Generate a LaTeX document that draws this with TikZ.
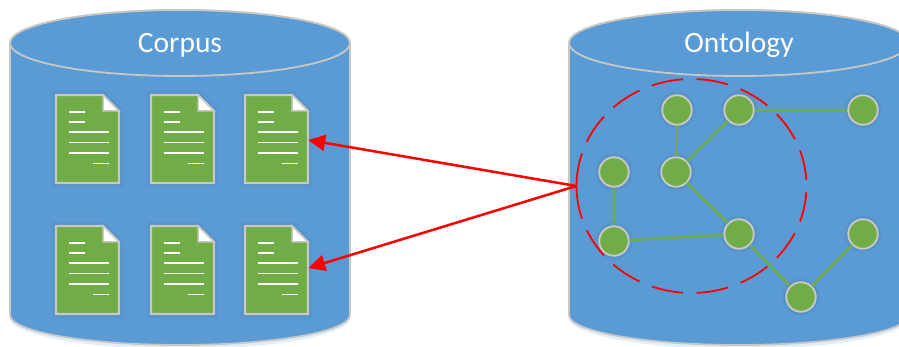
\documentclass[tikz,border=0pt]{standalone}
\usepackage{fontspec}
\setmainfont{Carlito}
\usetikzlibrary{shapes.geometric,arrows.meta}
\definecolor{cylblue}{HTML}{5B9BD5}
\definecolor{leaf}{HTML}{70AD47}
\definecolor{rim}{HTML}{C8C8C4}
\tikzset{
  softglow/.style={preaction={draw=#1,draw opacity=.07,line width=9pt,fill=none},
                   preaction={draw=#1,draw opacity=.08,line width=6pt,fill=none},
                   preaction={draw=#1,draw opacity=.10,line width=3.5pt,fill=none}},
  cylbody/.style={fill=cylblue,draw=rim,line width=1.8pt},
  cyltitle/.style={text=white,font=\fontsize{29.5}{32}\selectfont,inner sep=0pt},
  docbox/.style={fill=leaf,draw=rim,line width=2.2pt,softglow={cylblue!70!black}},
  docfold/.style={fill=white,draw=rim,line width=1.5pt},
  docline/.style={draw=white,line width=1.9pt},
  vertex/.style={circle,fill=leaf,draw=rim,line width=1.9pt,minimum size=29.5pt,inner sep=0pt,softglow={cylblue!70!black}},
  edgeline/.style={draw=leaf,line width=2.5pt},
  ring/.style={ellipse,inner sep=0pt,minimum width=230pt,minimum height=214pt},
  ringarc/.style={draw=red,line width=1.8pt},
  pointer/.style={draw=red,line width=2.5pt,-{Triangle[length=17pt,width=16pt]}},
  docanchor/.style={minimum width=63pt,minimum height=88pt,inner sep=0pt},
}
\newcommand{\cylinder}[3]{%
  \begin{scope}[shift={(#1,0)}]
    \fill[#2!50!white,opacity=.35] (-170,318) arc[start angle=180,end angle=0,x radius=170,y radius=31] -- (170,312) -- (-170,312) -- cycle;
    \path[cylbody] (-170,43) -- (-170,315) arc[start angle=180,end angle=0,x radius=170,y radius=30] -- (170,43) arc[start angle=0,end angle=-180,x radius=170,y radius=33] -- cycle;
    \path[cylbody] (0,43) ellipse[x radius=170,y radius=33];
    \node[cyltitle] (#3) at (0,45) {#3};
  \end{scope}}
\newcommand{\docnode}[3]{%
  \node[docanchor] (#1) at (#2,#3) {};
  \begin{scope}[shift={(#2,#3)}]
    \path[docbox] (-31.5,-44) -- (15.5,-44) -- (31.5,-28) -- (31.5,44) -- (-31.5,44) -- cycle;
    \path[docfold] (15.5,-44) -- (31.5,-28) -- (15.5,-28) -- cycle;
    \foreach \yy in {-27,-17} {\path[docline] (-19,\yy) -- (-3,\yy);}
    \foreach \yy in {-7,3.5,14} {\path[docline] (-19,\yy) -- (21,\yy);}
    \path[docline] (5,24.5) -- (21,24.5);
  \end{scope}}
\begin{document}
\begin{tikzpicture}[x=1pt,y=-1pt]
\useasboundingbox (0,0) rectangle (899,347);
\clip (0,0) rectangle (899,347);
\cylinder{180}{cylblue}{Corpus}
\cylinder{739}{cylblue}{Ontology}
\docnode{d1}{87.5}{139}
\docnode{d2}{182.5}{139}
\docnode{d3}{276.5}{139}
\docnode{d4}{87.5}{270}
\docnode{d5}{182.5}{270}
\docnode{d6}{276.5}{270}
\node[vertex] (a) at (677,110) {};
\node[vertex] (b) at (739,110) {};
\node[vertex] (c) at (863,110) {};
\node[vertex] (e) at (614,172) {};
\node[vertex] (f) at (676,172) {};
\node[vertex] (g) at (614,241) {};
\node[vertex] (h) at (739,234) {};
\node[vertex] (i) at (863,234) {};
\node[vertex] (j) at (801,297) {};
\draw[edgeline] (a) -- (f);
\draw[edgeline] (b) -- (f);
\draw[edgeline] (b) -- (c);
\draw[edgeline] (e) -- (g);
\draw[edgeline] (f) -- (h);
\draw[edgeline] (g) -- (h);
\draw[edgeline] (h) -- (j);
\draw[edgeline] (j) -- (i);
\node[ring] (r) at (691.5,186) {};
\foreach \k in {0,...,6} {
  \pgfmathsetmacro{\sa}{\k*22.7+3.35}
  \pgfmathsetmacro{\ea}{(\k+1)*22.7-3.35}
  \draw[ringarc] (r.center) ++(\sa:115 and 107) arc[start angle=\sa,end angle=\ea,x radius=115,y radius=107];
  \draw[ringarc] (r.center) ++(-\sa:115 and 107) arc[start angle=-\sa,end angle=-\ea,x radius=115,y radius=107];
}
\draw[ringarc] (r.center) ++(162.25:115 and 107) arc[start angle=162.25,end angle=197.75,x radius=115,y radius=107];
\draw[pointer] (r.west) -- ([yshift=-1pt]d3.east);
\draw[pointer] (r.west) -- ([yshift=2pt]d6.east);
\end{tikzpicture}
\end{document}
